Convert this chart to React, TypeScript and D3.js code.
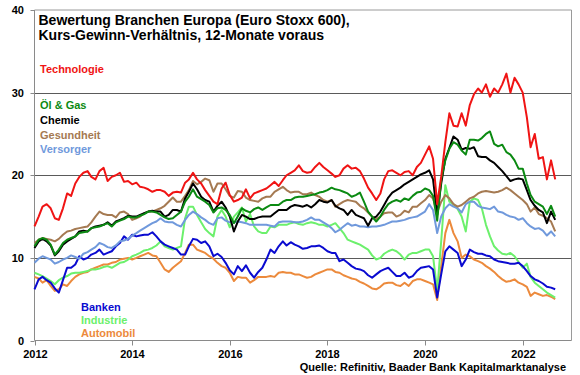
import React from "react";
import * as d3 from "d3";

const startDate = new Date(2012, 0, 1);
const endDate = new Date(2022, 9, 1);
const dates: Date[] = d3.timeMonth.range(startDate, endDate);

const yTicks = [0, 10, 20, 30, 40];
const gridValues = [10, 20, 30];
const xTickYears = [2012, 2014, 2016, 2018, 2020, 2022];

const titleLines = ["Bewertung Branchen Europa (Euro Stoxx 600),", "Kurs-Gewinn-Verhältnis, 12-Monate voraus"];
const sourceText = "Quelle: Refinitiv, Baader Bank Kapitalmarktanalyse";

const technologie = [
  13.8, 15.0, 16.2, 16.5, 16.0, 14.8, 14.6, 16.0, 17.8, 17.5, 19.0, 19.8,
  20.3, 20.5, 19.8, 19.5, 20.5, 20.9, 19.3, 19.8, 20.0, 20.3, 19.2, 19.3,
  18.9, 19.1, 18.6, 18.5, 18.3, 18.0, 18.2, 18.2, 18.0, 17.5, 17.9, 18.0,
  17.9, 19.1, 19.5, 20.3, 19.5, 19.0, 18.2, 17.5, 16.8, 16.5, 18.4, 19.1,
  17.6, 16.8, 17.0, 17.3, 18.3, 17.2, 17.8, 18.0, 18.2, 18.4, 18.8, 19.2,
  18.7, 19.4, 20.0, 20.3, 20.6, 21.2, 20.5, 20.3, 20.4, 21.0, 21.5, 21.0,
  20.6, 20.2, 19.8, 20.0, 20.8, 21.2, 20.8, 20.9, 20.5, 19.6, 18.5, 17.8,
  17.0, 17.8, 19.5, 20.5, 20.6, 20.3, 20.0, 20.4, 20.5, 20.0, 21.0, 21.5,
  22.5, 23.5, 22.0, 16.5, 19.8, 24.0, 27.5, 26.0, 25.9, 27.5, 26.0, 28.5,
  29.8, 30.5, 30.0, 31.0, 29.5, 30.5, 30.0, 31.0, 32.3, 30.0, 31.8, 31.0,
  30.0, 27.0, 23.4, 25.0, 22.0, 22.2, 19.5, 21.8, 19.5,
];

const oelGas = [
  11.4, 12.2, 12.4, 12.2, 11.6, 10.4, 11.0, 11.8, 12.2, 12.4, 12.6, 13.0,
  13.1, 13.2, 13.6, 13.7, 13.8, 14.0, 14.2, 13.8, 14.3, 14.5, 14.7, 15.0,
  14.9, 14.9, 15.1, 15.3, 15.6, 15.6, 15.5, 15.2, 14.9, 14.7, 14.8, 15.2,
  15.6, 16.8, 17.4, 18.3, 17.4, 17.1, 16.8, 16.4, 15.5, 16.0, 16.1, 15.8,
  15.2, 14.2, 15.0, 16.0, 15.7, 15.5, 15.9, 16.1, 15.8, 16.1, 16.4, 16.4,
  16.4, 16.8, 17.0, 17.0, 17.3, 17.4, 17.4, 17.5, 17.6, 17.7, 17.9, 18.0,
  18.2, 18.5, 18.3, 18.2, 18.0, 17.8, 17.4, 17.6, 17.9, 16.8, 15.6, 15.0,
  14.4, 15.0, 15.8, 16.5, 16.8, 17.0, 16.8, 17.2, 17.0, 17.5, 17.9, 18.0,
  18.4, 18.2, 17.5, 14.5, 19.5, 21.8, 23.2, 24.0, 23.7, 23.0, 22.5, 24.3,
  24.3, 24.2, 24.5, 25.0, 25.3, 23.8, 23.5, 23.7, 22.8, 22.5, 21.8, 20.8,
  20.8, 19.0, 17.6, 16.8, 16.5, 16.2, 15.3, 16.3, 15.0,
];

const chemie = [
  11.2, 12.0, 12.3, 12.0, 11.5, 10.3, 10.8, 11.6, 12.0, 12.3, 12.6, 13.2,
  13.3, 13.2, 13.6, 13.8, 13.9, 14.0, 14.3, 13.9, 14.4, 14.6, 14.8, 15.1,
  15.0, 15.0, 15.2, 15.4, 15.6, 15.7, 15.6, 15.6, 15.0, 15.2, 15.8, 15.8,
  15.6, 17.2, 18.0, 19.0, 18.3, 17.4, 17.0, 16.8, 15.6, 16.3, 16.8, 16.1,
  15.0, 13.2, 14.4, 15.2, 15.0, 14.7, 14.7, 14.9, 15.0, 15.0, 15.0, 15.4,
  15.8, 15.8, 15.8, 16.2, 16.4, 16.3, 16.2, 16.4, 16.1, 16.5, 17.0, 16.8,
  16.7, 17.0, 16.3, 16.0, 15.8, 15.2, 15.8, 15.2, 15.0, 14.8, 13.9, 14.8,
  15.0, 15.6, 16.4, 17.3, 17.9, 18.2, 18.5, 18.9, 19.2, 19.5, 19.8, 20.1,
  20.3, 20.6, 19.5, 15.2, 19.0, 22.0, 23.3, 24.7, 24.3, 23.1, 23.3, 23.2,
  23.4, 22.3, 22.2, 22.2, 21.8, 21.5, 21.0, 20.5, 19.9, 19.3, 19.5, 19.6,
  19.5, 18.2, 17.0, 16.3, 15.8, 15.5, 14.2, 15.6, 14.6,
];

const gesundheit = [
  11.8, 12.2, 12.4, 12.3, 12.2, 12.0, 12.3, 12.8, 13.2, 13.3, 13.5, 13.6,
  13.7, 13.8, 14.3, 15.0, 15.6, 15.3, 15.2, 15.2, 14.9, 15.5, 15.6, 15.3,
  14.6, 14.8, 15.0, 15.4, 15.6, 15.6, 15.8, 16.0, 16.3, 16.8, 17.3, 16.8,
  16.8, 17.5, 18.2, 19.3, 18.9, 19.2, 19.6, 19.4, 18.0, 19.0, 19.0, 18.3,
  17.5, 17.3, 18.1, 18.0, 17.3, 17.0, 16.9, 16.8, 17.2, 17.4, 17.4, 18.0,
  18.3, 18.6, 18.2, 17.9, 18.0, 18.0, 17.7, 17.7, 17.9, 17.6, 17.4, 17.0,
  16.8, 17.0, 16.2, 16.5, 16.8, 17.0, 16.9, 16.8, 16.3, 16.0, 15.5, 15.0,
  14.7, 15.0, 15.4, 15.5, 15.5, 15.0, 15.2, 15.7, 15.5, 16.2, 16.2, 16.6,
  17.0, 17.6, 17.2, 15.5, 16.8, 17.6, 17.2, 16.5, 16.2, 16.4, 16.8, 17.2,
  17.4, 17.8, 18.0, 18.1, 18.0, 17.9, 18.0, 18.2, 18.5, 18.2, 17.8, 17.4,
  17.0, 16.5, 15.6, 16.1, 15.3, 15.1, 14.8, 14.4, 13.2,
];

const versorger = [
  9.4, 9.9, 10.2, 10.0, 9.8, 9.3, 9.5, 9.8, 10.0, 10.3, 10.1, 9.9,
  10.5, 10.7, 11.0, 11.3, 11.8, 11.6, 11.3, 11.2, 11.5, 12.0, 12.1, 12.3,
  12.7, 13.0, 13.3, 13.6, 13.9, 14.2, 14.4, 14.8, 14.4, 14.3, 14.3, 14.0,
  13.8, 14.6, 15.2, 15.6, 15.3, 14.9, 14.6, 14.2, 14.0, 14.8, 14.9, 14.5,
  14.3, 14.3, 14.4, 14.3, 14.2, 14.0, 14.0, 14.0, 14.0, 14.0, 13.9, 13.8,
  14.3, 14.4, 14.4, 14.4, 14.3, 14.3, 14.4, 14.6, 14.9, 14.6, 14.6, 14.3,
  14.0, 13.6, 13.1, 13.4, 13.8, 14.2, 13.9, 14.0, 13.8, 13.8, 13.7, 13.8,
  13.8, 13.9, 14.0, 14.2, 14.4, 14.4, 14.5, 14.6, 14.8, 14.9, 15.0, 15.3,
  15.6, 16.5, 15.8, 13.0, 15.0, 16.0, 16.5, 16.2, 16.0, 15.5, 16.5, 16.8,
  16.8, 16.3, 16.1, 16.0, 15.9, 16.2, 15.6, 15.5, 15.2, 15.0, 14.9, 14.6,
  14.8, 14.2, 13.8, 13.5, 13.6, 13.3, 12.7, 13.2, 12.6,
];

const banken = [
  6.2, 7.4, 7.7, 7.3, 7.0, 6.3, 5.8, 7.3, 8.8, 8.8, 9.2, 10.2,
  9.8, 10.0, 10.4, 10.6, 11.0, 10.4, 10.6, 10.8, 11.4, 11.8, 12.6, 12.2,
  12.8, 12.6, 12.7, 12.8, 12.8, 13.1, 12.6, 12.0, 11.6, 11.4, 11.2, 11.0,
  10.4, 10.4, 11.4, 12.3, 12.2, 11.8, 12.0, 11.4, 10.2, 10.5, 10.1, 9.4,
  8.5, 8.0, 9.0, 8.4, 9.1, 8.2, 7.6, 8.3, 8.8, 9.8, 11.0, 10.6,
  11.4, 12.0, 11.5, 11.9, 11.6, 11.4, 11.1, 11.2, 11.4, 11.4, 11.5, 11.2,
  10.8, 10.6, 10.6, 9.6, 9.8, 9.4, 9.0, 8.7, 8.6, 8.4, 7.9, 7.6,
  8.0, 8.4, 8.6, 8.8, 8.3, 7.8, 7.8, 8.2, 7.6, 7.8, 8.4, 8.8,
  8.9, 9.0, 8.6, 5.2, 8.0, 10.8, 11.4, 11.0, 10.6, 9.0, 9.8, 11.0,
  10.7, 10.5, 10.5, 10.3, 10.2, 9.8, 9.6, 9.5, 9.4, 9.3, 9.3, 9.4,
  9.0, 8.4, 7.8, 7.4, 7.2, 6.9, 6.5, 6.4, 6.2,
];

const industrie = [
  8.2, 8.0, 7.8, 7.5, 7.2, 6.8, 7.3, 7.6, 7.8, 8.1, 8.2, 8.2,
  8.3, 8.4, 8.6, 8.6, 8.7, 8.9, 9.0, 8.8, 9.1, 9.4, 9.5, 9.8,
  10.2, 10.4, 10.6, 10.9, 11.0, 11.2, 11.5, 12.0, 11.4, 11.2, 11.0, 11.2,
  11.4, 14.8, 16.2, 16.2, 15.2, 14.3, 13.5, 13.0, 12.6, 15.0, 15.8, 15.0,
  13.7, 15.0, 15.5, 16.1, 14.4, 15.3, 13.8, 13.2, 13.0, 13.0, 13.8, 13.7,
  14.0, 14.0, 14.0, 14.2, 14.3, 14.1, 14.0, 14.2, 14.3, 14.2, 14.0, 14.0,
  13.8, 14.0, 14.2, 13.6, 13.0, 12.2, 12.0, 11.8, 11.6, 11.3, 11.0, 10.3,
  9.8, 10.0, 10.5, 10.8, 11.0, 10.8, 10.4, 9.8, 10.4, 10.6, 10.6, 10.8,
  11.0, 11.0, 10.2, 6.0, 12.0, 18.8, 16.8, 16.5, 15.9, 15.0, 13.2, 16.8,
  17.2, 17.0, 16.0, 14.0, 12.6, 11.4, 10.9, 10.5, 10.4, 10.6, 10.2, 9.5,
  8.8, 9.3, 7.7, 7.0, 6.6, 6.2, 5.8, 5.5, 5.2,
];

const automobil = [
  7.7, 7.5, 7.0, 7.3, 6.6, 6.0, 6.2, 6.8, 6.6, 7.2, 7.7, 8.0,
  8.2, 8.3, 8.6, 8.8, 9.0, 9.2, 9.2, 9.4, 9.5, 9.8, 9.9, 10.0,
  9.8, 10.0, 10.2, 10.4, 10.6, 10.3, 10.2, 9.4, 8.6, 8.3, 8.8, 9.2,
  9.6, 10.6, 11.6, 11.6, 11.0, 10.8, 10.6, 10.2, 9.9, 9.4, 9.0, 8.8,
  8.2, 7.2, 7.7, 7.6, 7.6, 7.0, 7.3, 7.7, 7.7, 7.7, 7.8, 7.7,
  8.2, 8.3, 8.2, 8.2, 8.0, 8.0, 7.8, 7.6, 7.7, 8.0, 8.2, 8.4,
  8.6, 8.6, 8.3, 8.2, 7.9, 7.7, 7.5, 7.4, 7.1, 6.9, 6.6, 6.3,
  6.2, 6.5, 6.9, 7.0, 7.0, 6.7, 6.6, 7.0, 6.6, 7.2, 7.4, 7.4,
  7.2, 7.0, 6.8, 4.9, 9.0, 13.0, 14.6, 13.0, 12.0, 10.0, 10.4, 10.2,
  9.8, 9.6, 9.4, 9.0, 8.7, 8.3, 7.8, 7.4, 7.1, 7.2, 7.4, 7.0,
  6.8, 6.5, 5.4, 5.8, 5.6, 5.4, 5.5, 5.3, 5.0,
];

// drawing order: bottom first
const seriesNames = ["Automobil", "Industrie", "Banken", "Versorger", "Gesundheit", "Chemie", "Öl & Gas", "Technologie"];
const seriesValues = [automobil, industrie, banken, versorger, gesundheit, chemie, oelGas, technologie];
const seriesColors = ["#ec8a3c", "#6cf06c", "#0a0ad0", "#7099dc", "#a57a52", "#000000", "#0b8a12", "#f01414"];

const upperLegend = ["Technologie", "Öl & Gas", "Chemie", "Gesundheit", "Versorger"];
const lowerLegend = ["Banken", "Industrie", "Automobil"];

const W = 580;
const H = 375;
const FONT = "'Liberation Sans', Arial, sans-serif";

export default function App() {
  const x = d3.scaleTime().domain([new Date(2012, 0, 1), new Date(2023, 0, 1)]).range([34.5, 571.5]);
  const y = d3.scaleLinear().domain([0, 40]).range([340.5, 10]);
  const colorOf = (n: string) => seriesColors[seriesNames.indexOf(n)];

  const line = d3
    .line<number>()
    .x((_, i) => x(dates[i]))
    .y((d) => y(d))
    .curve(d3.curveLinear);

  const left = x.range()[0];
  const right = x.range()[1];
  const top = y(40);
  const bottom = y(0);

  return (
    <svg width={W} height={H} style={{ position: "absolute", left: 0, top: 0, background: "#fff" }} fontFamily={FONT}>
      <rect x={0} y={0} width={W} height={H} fill="#fff" />
      {gridValues.map((v) => (
        <line key={v} x1={left} x2={right} y1={Math.round(y(v)) + 0.5} y2={Math.round(y(v)) + 0.5} stroke="#5a5a5a" strokeWidth={1} />
      ))}
      <line x1={left} x2={right} y1={top} y2={top} stroke="#9a9a9a" strokeWidth={1} />
      <line x1={right} x2={right} y1={top} y2={bottom} stroke="#9a9a9a" strokeWidth={1} />
      <line x1={left} x2={left} y1={top} y2={bottom} stroke="#8a8a8a" strokeWidth={1} />
      <line x1={left} x2={right} y1={bottom} y2={bottom} stroke="#8a8a8a" strokeWidth={1} />
      {yTicks.map((v) => (
        <g key={v}>
          <line x1={left - 4} x2={left} y1={Math.round(y(v)) + 0.5} y2={Math.round(y(v)) + 0.5} stroke="#8a8a8a" />
          <text x={24} y={y(v) + 4} textAnchor="end" fontSize={11} fontWeight="bold" fill="#000">
            {v}
          </text>
        </g>
      ))}
      {xTickYears.map((yr) => {
        const px = Math.round(x(new Date(yr, 0, 1))) + 0.5;
        return (
          <g key={yr}>
            <line x1={px} x2={px} y1={bottom} y2={bottom + 5} stroke="#8a8a8a" />
            <text x={px} y={358} textAnchor="middle" fontSize={11} fontWeight="bold" fill="#000">
              {yr}
            </text>
          </g>
        );
      })}
      {seriesNames.map((n, i) => (
        <path key={n} d={line(seriesValues[i]) || ""} fill="none" stroke={seriesColors[i]} strokeWidth={2} strokeLinejoin="round" />
      ))}
      {titleLines.map((t, i) => (
        <text key={i} x={38.5} y={24.5 + i * 15.5} fontSize={14} fontWeight="bold" fill="#000">
          {t}
        </text>
      ))}
      <text x={40} y={73} fontSize={11} fontWeight="bold" fill={colorOf(upperLegend[0])}>
        {upperLegend[0]}
      </text>
      {upperLegend.slice(1).map((n, i) => (
        <text key={n} x={40} y={109 + i * 14.8} fontSize={11} fontWeight="bold" fill={colorOf(n)}>
          {n}
        </text>
      ))}
      {lowerLegend.map((n, i) => (
        <text key={n} x={81} y={311 + i * 13} fontSize={11} fontWeight="bold" fill={colorOf(n)}>
          {n}
        </text>
      ))}
      <text x={566} y={371} textAnchor="end" fontSize={11} fontWeight="bold" fill="#000">
        {sourceText}
      </text>
    </svg>
  );
}
